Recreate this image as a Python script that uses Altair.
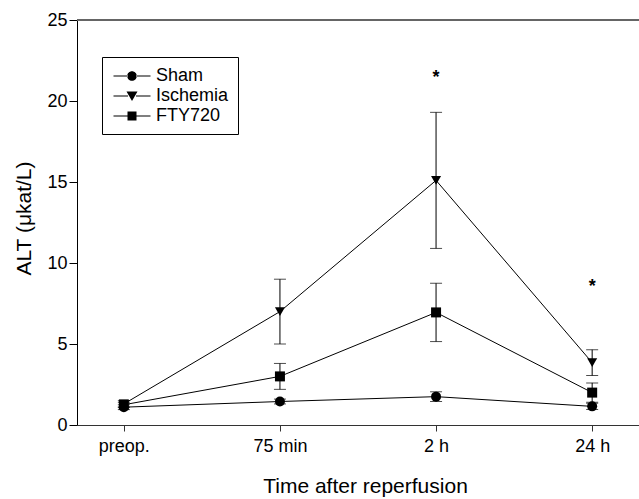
import altair as alt
import pandas as pd

times = ["preop.", "75 min", "2 h", "24 h"]
series = ["Sham", "Ischemia", "FTY720"]
sham_mean = [1.1, 1.45, 1.75, 1.15]
sham_err = [0.15, 0.15, 0.3, 0.2]
isch_mean = [1.3, 7.0, 15.1, 3.85]
isch_err = [0.2, 2.0, 4.2, 0.8]
fty_mean = [1.25, 3.0, 6.95, 2.0]
fty_err = [0.15, 0.8, 1.8, 0.6]
star_time = [2, 3]
star_y = [21.6, 8.7]

rows = []
for name, m, e in zip(series, [sham_mean, isch_mean, fty_mean], [sham_err, isch_err, fty_err]):
    for i, (mv, ev) in enumerate(zip(m, e)):
        rows.append({"t": i, "series": name, "mean": mv, "lo": mv - ev, "hi": mv + ev})
df = pd.DataFrame(rows)
stars = pd.DataFrame({"t": star_time, "y": star_y, "s": ["*"] * len(star_y)})

FONT = "Liberation Sans"
label_expr = "[" + ",".join("'%s'" % s for s in times) + "][datum.value]"

xscale = alt.Scale(domain=[-0.3, 3.3], nice=False, zero=False)
yscale = alt.Scale(domain=[0, 25], nice=False)

x_enc = alt.X("t:Q", scale=xscale, axis=alt.Axis(
    values=[0, 1, 2, 3], labelExpr=label_expr, title="Time after reperfusion",
    grid=False, tickSize=6, labelPadding=6, labelFontSize=18, titleFontSize=21,
    titleFontWeight="normal", titlePadding=20, titleX=288, domainColor="#333", tickColor="#333",
    labelColor="black", titleColor="black", labelFont=FONT, titleFont=FONT))
y_enc = alt.Y("mean:Q", scale=yscale, axis=alt.Axis(
    values=[0, 5, 10, 15, 20, 25], title="ALT (μkat/L)", grid=False, tickSize=8,
    labelPadding=2, labelFontSize=18, titleFontSize=21, titleFontWeight="normal",
    titlePadding=12, titleY=198, domainColor="black", tickColor="black", labelColor="black",
    titleColor="black", labelFont=FONT, titleFont=FONT))

base = alt.Chart(df)

lines = base.mark_line(color="black", strokeWidth=1).encode(x=x_enc, y=y_enc, detail="series:N")
bars = base.mark_rule(color="black", strokeWidth=1).encode(x="t:Q", y="lo:Q", y2="hi:Q")
cap_lo = base.mark_tick(color="black", orient="horizontal", size=12, thickness=1).encode(x="t:Q", y="lo:Q")
cap_hi = base.mark_tick(color="black", orient="horizontal", size=12, thickness=1).encode(x="t:Q", y="hi:Q")
points = base.mark_point(filled=True, color="black", opacity=1, size=100).encode(
    x="t:Q", y="mean:Q",
    shape=alt.Shape("series:N", scale=alt.Scale(domain=series, range=["circle", "triangle-down", "square"]), legend=None))

line_part = "M-1.85,-0.05H-0.4V0.05H-1.85ZM0.4,-0.05H1.85V0.05H0.4Z"
legend_paths = [
    line_part + "M-0.48,0A0.48,0.48,0,1,0,0.48,0A0.48,0.48,0,1,0,-0.48,0Z",
    line_part + "M-0.55,-0.45L0.55,-0.45L0,0.5Z",
    line_part + "M-0.45,-0.45H0.45V0.45H-0.45Z",
]
legend_layer = base.mark_point(filled=True, color="black", opacity=0, size=400).encode(
    x="t:Q", y="mean:Q",
    shape=alt.Shape("series:N", scale=alt.Scale(domain=series, range=legend_paths),
                    legend=alt.Legend(title=None, orient="none", legendX=25, legendY=37,
                                      strokeColor="black", fillColor="white", padding=9,
                                      labelFontSize=18, labelFont=FONT, labelColor="black",
                                      rowPadding=1, symbolOffset=11, labelOffset=14,
                                      symbolSize=400, symbolOpacity=1, symbolFillColor="black",
                                      symbolStrokeWidth=0)))

toprule = alt.Chart(df).mark_rule(color="#666", strokeWidth=1.5).encode(y=alt.datum(25))
star_layer = alt.Chart(stars).mark_text(fontSize=18, fontWeight="bold", font=FONT, color="black",
                                        baseline="middle", dy=3).encode(
    x="t:Q", y="y:Q", text="s:N")

chart = alt.layer(toprule, lines, bars, cap_lo, cap_hi, points, legend_layer, star_layer).resolve_scale(
    shape="independent"
).properties(
    width=562, height=405, autosize="none",
    padding={"left": 77, "top": 20, "right": 0, "bottom": 74},
).configure_view(stroke=None)

chart.save("out.html", embed_options={"renderer": "svg", "actions": False})
